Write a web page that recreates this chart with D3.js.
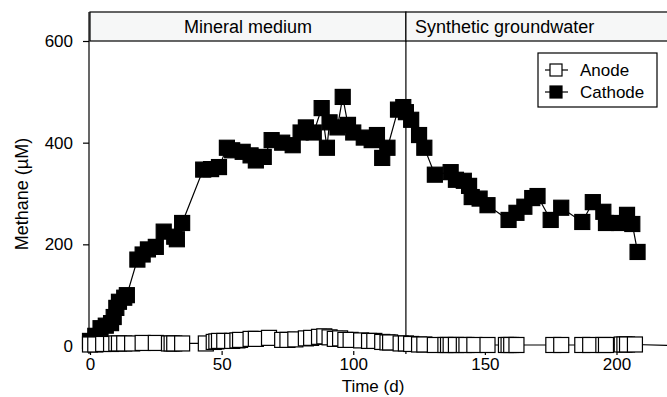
<!DOCTYPE html>
<html>
<head>
<meta charset="utf-8">
<script src="https://cdn.jsdelivr.net/npm/d3@7"></script>
<style>
  html, body { margin: 0; padding: 0; background: #fff; }
  svg { display: block; font-family: "Liberation Sans", Arial, sans-serif; }
</style>
</head>
<body>
<div id="chart"></div>
<script>
// days and methane (uM)
const cathodeDays = [0, 2, 4, 6, 8, 9, 10, 11, 13, 14, 18, 20, 22, 25, 28, 32, 33, 35, 43, 46, 49, 52, 54, 58, 61, 63, 66, 69, 73, 77, 80, 82, 85, 88, 90, 91, 94, 96, 98, 100, 104, 107, 109, 111, 113, 117, 119, 120, 122, 125, 127, 131, 137, 139, 142, 144, 145, 148, 151, 159, 162, 165, 168, 170, 175, 179, 187, 191, 195, 196, 201, 204, 206, 208];
const cathodeVals = [10, 20, 35, 40, 45, 57, 75, 87, 95, 100, 170, 180, 190, 195, 225, 215, 210, 242, 347, 348, 352, 390, 385, 382, 375, 365, 372, 405, 400, 395, 420, 430, 420, 468, 390, 440, 430, 490, 435, 420, 410, 405, 415, 370, 390, 465, 470, 460, 445, 415, 390, 337, 342, 327, 325, 315, 293, 290, 277, 248, 262, 274, 291, 295, 248, 272, 244, 283, 264, 242, 242, 258, 240, 185];

const anodeDays = [0, 2, 5, 8, 10, 11, 13, 16, 20, 25, 30, 31, 32, 35, 44, 47, 48, 49, 51, 54, 56, 57, 61, 63, 68, 73, 75, 78, 82, 84, 87, 89, 91, 93, 95, 97, 99, 103, 106, 108, 111, 113, 114, 118, 120, 122, 125, 127, 131, 135, 136, 137, 139, 142, 143, 146, 151, 158, 159, 160, 162, 176, 179, 187, 190, 195, 196, 202, 203, 204, 207, 230];
const anodeVals = [3, 3, 4, 4, 5, 5, 5, 5, 6, 6, 5, 5, 5, 5, 5, 8, 9, 10, 10, 10, 11, 12, 14, 14, 16, 12, 12, 13, 15, 16, 18, 19, 17, 14, 15, 12, 12, 11, 10, 10, 8, 7, 7, 5, 5, 4, 3, 3, 2, 2, 2, 2, 2, 2, 2, 2, 2, 2, 2, 2, 2, 2, 2, 2, 2, 2, 2, 3, 3, 3, 3, 0];

const phaseNames = ["Mineral medium", "Synthetic groundwater"];
const phaseStart = [0, 120];
const phaseEnd = [120, 240];
const yTicks = [0, 200, 400, 600];
const xTicks = [0, 50, 100, 150, 200];
const seriesNames = ["Anode", "Cathode"];

const width = 667, height = 397;
const markSize = 15;
const fontSize = 17;

const svg = d3.select("#chart").append("svg")
    .attr("width", width)
    .attr("height", height);

const x = d3.scaleLinear().domain([0, 200]).range([90, 616.5]);
const y = d3.scaleLinear().domain([0, 600]).range([346, 41]);
const plotTop = 12, plotBottom = 354, plotLeft = 89;

// header strip
const header = svg.append("g");
header.selectAll("rect")
    .data(phaseNames)
    .enter()
    .append("rect")
    .attr("x", (d, i) => Math.max(plotLeft, x(phaseStart[i])))
    .attr("y", plotTop)
    .attr("width", (d, i) => x(phaseEnd[i]) - Math.max(plotLeft, x(phaseStart[i])))
    .attr("height", y(600) - plotTop)
    .attr("fill", "#f6f7f7")
    .attr("stroke", "#000")
    .attr("stroke-width", 1.2);
header.selectAll("text")
    .data(phaseNames)
    .enter()
    .append("text")
    .attr("x", (d, i) => i == 0 ? (x(0) + x(120)) / 2 : x(157.5))
    .attr("y", (plotTop + y(600)) / 2 + 6)
    .attr("text-anchor", "middle")
    .attr("font-size", 18)
    .text(d => d);

// divider between phases
svg.append("line")
    .attr("x1", x(120)).attr("x2", x(120))
    .attr("y1", y(600)).attr("y2", plotBottom)
    .attr("stroke", "#000").attr("stroke-width", 1.2);

// axes
const yAxis = svg.append("g")
    .attr("transform", "translate(" + plotLeft + ",0)")
    .call(d3.axisLeft(y).tickValues(yTicks).tickSize(6).tickSizeOuter(0).tickPadding(10));
yAxis.select(".domain").attr("d", "M0," + plotTop + "V" + plotBottom);
yAxis.selectAll("text").attr("font-size", fontSize).attr("font-family", "Liberation Sans, Arial, sans-serif");
yAxis.selectAll("line, path").attr("stroke-width", 1.2);

const xAxis = svg.append("g")
    .attr("transform", "translate(0," + 351 + ")")
    .call(d3.axisBottom(x).tickValues(xTicks).tickSize(4).tickPadding(3));
xAxis.select(".domain").remove();
xAxis.selectAll("text").attr("font-size", fontSize).attr("font-family", "Liberation Sans, Arial, sans-serif");
xAxis.selectAll("line").attr("stroke-width", 1.2);

svg.append("text")
    .attr("x", 373).attr("y", 392)
    .attr("text-anchor", "middle")
    .attr("font-size", fontSize)
    .text("Time (d)");
svg.append("text")
    .attr("transform", "translate(28,194) rotate(-90)")
    .attr("text-anchor", "middle")
    .attr("font-size", 18)
    .text("Methane (\u00b5M)");

// series
const line = d3.line().x(d => x(d[0])).y(d => y(d[1]));
const cathode = cathodeDays.map((d, i) => [d, cathodeVals[i]]);
const anode = anodeDays.map((d, i) => [d, anodeVals[i]]);

function drawSeries(data, fill) {
    const g = svg.append("g");
    g.append("path")
        .datum(data)
        .attr("d", line)
        .attr("fill", "none")
        .attr("stroke", "#000")
        .attr("stroke-width", 1.2);
    g.selectAll("rect")
        .data(data)
        .enter()
        .append("rect")
        .attr("x", d => x(d[0]) - markSize / 2)
        .attr("y", d => y(d[1]) - markSize / 2)
        .attr("width", markSize)
        .attr("height", markSize)
        .attr("fill", fill)
        .attr("stroke", "#000")
        .attr("stroke-width", 1.2);
}
drawSeries(cathode, "#000");
drawSeries(anode, "#fff");

// legend
const legend = svg.append("g").attr("transform", "translate(538,53)");
legend.append("rect")
    .attr("width", 119).attr("height", 54)
    .attr("fill", "#fff").attr("stroke", "#000").attr("stroke-width", 1.2);
const items = legend.selectAll("g.item")
    .data(seriesNames)
    .enter()
    .append("g")
    .attr("class", "item")
    .attr("transform", (d, i) => "translate(0," + (17 + i * 22) + ")");
items.append("line")
    .attr("x1", 7).attr("x2", 30)
    .attr("stroke", "#000").attr("stroke-width", 1.2);
items.append("rect")
    .attr("x", 12).attr("y", -6)
    .attr("width", 12).attr("height", 12)
    .attr("fill", (d, i) => i == 0 ? "#fff" : "#000")
    .attr("stroke", "#000").attr("stroke-width", 1.2);
items.append("text")
    .attr("x", 42).attr("y", 6)
    .attr("font-size", fontSize)
    .text(d => d);
</script>
</body>
</html>
